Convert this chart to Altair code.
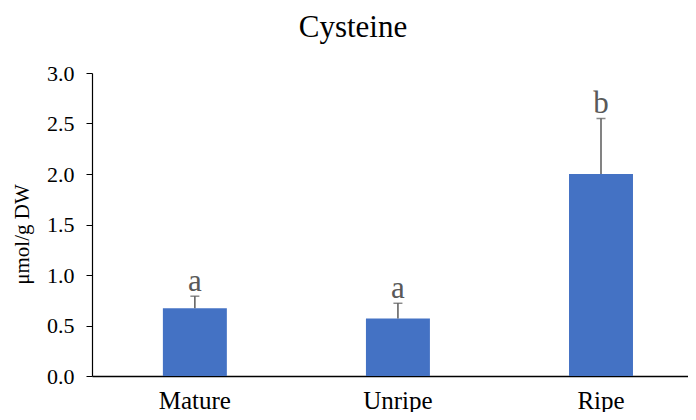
import altair as alt
import pandas as pd

categories = ["Mature", "Unripe", "Ripe"]
means = [0.67, 0.57, 2.00]
err_top = [0.79, 0.72, 2.55]
letters = ["a", "a", "b"]

df = pd.DataFrame({"cat": categories, "mean": means, "err": err_top, "letter": letters})

FONT = "Liberation Serif"

x_scale = alt.Scale(paddingInner=0.685, paddingOuter=0.31, align=0.563)
x_axis = alt.Axis(labelAngle=0, labelFontSize=25, ticks=False, domainColor="black",
                  domainWidth=1.5, labelPadding=12)
y_scale = alt.Scale(domain=[0, 3], nice=False)
y_axis = alt.Axis(values=[0, 0.5, 1.0, 1.5, 2.0, 2.5, 3.0], format=".1f", grid=False,
                  labelFontSize=22, labelPadding=12,
                  tickSize=6, tickColor="black", domainColor="black", domainWidth=1.2,
                  title="μmol/g DW", titleFontSize=21, titlePadding=14, titleY=161)

x = alt.X("cat:N", sort=categories, title=None, scale=x_scale, axis=x_axis)
y = alt.Y("mean:Q", scale=y_scale, axis=y_axis)

base = alt.Chart(df)

bars = base.mark_bar(color="#4472C4").encode(x=x, y=y)

rules = base.mark_rule(color="#595959", strokeWidth=1.5).encode(
    x=x, y=y, y2="err:Q",
)

caps = base.mark_tick(color="#595959", thickness=1.5, size=9).encode(
    x=x, y=alt.Y("err:Q", scale=y_scale, axis=y_axis),
)

labels = base.mark_text(font=FONT, fontSize=31, color="#595959", baseline="alphabetic", dy=-5).encode(
    x=x, y=alt.Y("err:Q", scale=y_scale, axis=y_axis), text="letter:N",
)

chart = alt.layer(bars, rules, caps, labels).properties(
    width=596,
    height=303,
    title=alt.TitleParams("Cysteine", font=FONT, fontSize=31, fontWeight="normal", color="black",
                          anchor="middle", frame="group", dx=-37, offset=18),
    autosize=alt.AutoSizeParams(type="none"),
    padding={"left": 84, "top": 65, "right": 0, "bottom": 36},
).configure_view(stroke=None).configure_axis(
    labelFont=FONT, titleFont=FONT, labelColor="black", titleColor="black",
    titleFontWeight="normal",
)

chart.save("out.html", embed_options={"renderer": "svg", "actions": False})
